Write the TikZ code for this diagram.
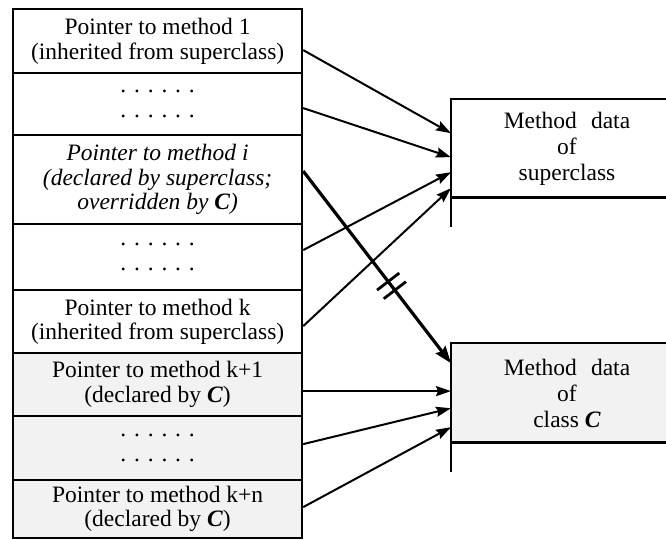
\documentclass[tikz,border=0pt]{standalone}
\usepackage{fontspec}
\setmainfont{Liberation Serif}
\usetikzlibrary{arrows.meta,calc}

\tikzset{
  rowbox/.style={draw, line width=2.2pt, rectangle, anchor=north west, inner sep=0pt,
    minimum width=289pt, align=center, font=\fontsize{23.5}{24.5}\selectfont},
  shaded/.style={fill=black!5},
  ptr/.style={line width=2pt, -{Stealth[length=15pt,width=10pt,inset=2pt]}},
  ptrthick/.style={line width=3.2pt, -{Stealth[length=17pt,width=12pt,inset=2pt]}},
  datatext/.style={align=center, font=\fontsize{23.5}{26}\selectfont},
  frame/.style={line width=2.2pt}
}
\newcommand{\bC}{\textbf{\textit{C}}}
\newcommand{\dotrow}{. . . . . .\\[1pt]. . . . . .}

\begin{document}
\begin{tikzpicture}[x=1pt,y=-1pt]
\useasboundingbox (0,0) rectangle (666,539);

% method table of class C
\node[rowbox, minimum height=64pt] (r1) at (12,8)
  {Pointer to method 1\\(inherited from superclass)};
\node[rowbox, minimum height=62pt] (r2) at (12,72) {\dotrow};
\node[rowbox, minimum height=89pt] (r3) at (12,134)
  {\itshape Pointer to method i\\\itshape (declared by superclass;\\\itshape overridden by \bC)};
\node[rowbox, minimum height=66pt] (r4) at (12,223) {\dotrow};
\node[rowbox, minimum height=63pt] (r5) at (12,289)
  {Pointer to method k\\(inherited from superclass)};
\node[rowbox, shaded, minimum height=63pt] (r6) at (12,352)
  {Pointer to method k+1\\(declared by \bC)};
\node[rowbox, shaded, minimum height=64pt] (r7) at (12,415) {\dotrow};
\node[rowbox, shaded, minimum height=58pt] (r8) at (12,479)
  {Pointer to method k+n\\(declared by \bC)};

% method data blocks
\node[anchor=north west, inner sep=0pt, minimum width=215pt, minimum height=98pt] (sb) at (451,99) {};
\node[datatext] (sbt) at (567,149) {Method\hspace{0.6em}data\\of\\superclass};
\node[anchor=north west, inner sep=0pt, minimum width=215pt, minimum height=99pt, shaded] (cb) at (451,343) {};
\node[datatext] (cbt) at (567,393) {Method\hspace{0.6em}data\\of\\class \bC};

\draw[frame] (sb.north east) -- (sb.north west) -- (sb.south west) -- ++(0,30);
\draw[frame] (sb.south west) -- (sb.south east);
\draw[frame] (cb.north east) -- (cb.north west) -- (cb.south west) -- ++(0,30);
\draw[frame] (cb.south west) -- (cb.south east);

% pointers into the superclass data
\draw[ptr] ([yshift=-9pt]r1.east) -- ([yshift=15pt]sb.west);
\draw[ptr] ([yshift=-4pt]r2.east) -- ([yshift=-9pt]sb.west);
\draw[ptr] ([yshift=7pt]r4.east) -- ([yshift=-24pt]sb.west);
\draw[ptr] ([yshift=-4.5pt]r5.east) -- ([yshift=-40pt]sb.west);

% overridden pointer, crossed out
\coordinate (oa) at ([yshift=8.5pt]r3.east);
\coordinate (ob) at ([yshift=29.5pt]cb.west);
\draw[ptrthick] (oa) -- (ob);
\coordinate (m1) at ($(oa)!0.575!(ob)$);
\coordinate (m2) at ($(oa)!0.62!(ob)$);
\draw[line width=2.8pt] ($(m1)!14pt!90:(ob)$) -- ($(m1)!14pt!-90:(ob)$);
\draw[line width=2.8pt] ($(m2)!14pt!90:(ob)$) -- ($(m2)!14pt!-90:(ob)$);

% pointers into the class C data
\draw[ptr] ([yshift=-6.5pt]r6.east) -- ([yshift=-6.5pt]r6.east -| cb.west);
\draw[ptr] ([yshift=4pt]r7.east) -- ([yshift=-15.5pt]cb.west);
\draw[ptr] ([yshift=2pt]r8.east) -- ([yshift=-34.5pt]cb.west);
\end{tikzpicture}
\end{document}
